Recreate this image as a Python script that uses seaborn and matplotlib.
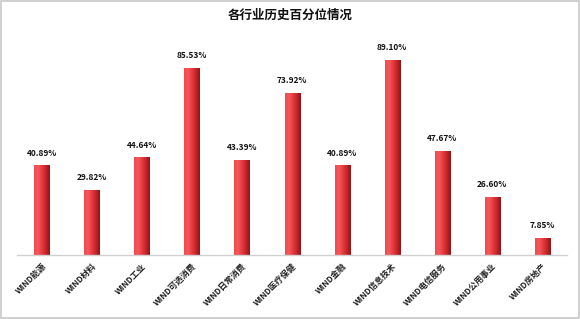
import matplotlib
matplotlib.use("Agg")
import matplotlib.pyplot as plt
import seaborn as sns
import numpy as np
import pandas as pd
from matplotlib.colors import LinearSegmentedColormap
from matplotlib.patches import Rectangle

categories = ["WIND能源", "WIND材料", "WIND工业", "WIND可选消费", "WIND日常消费",
              "WIND医疗保健", "WIND金融", "WIND信息技术", "WIND电信服务",
              "WIND公用事业", "WIND房地产"]
values = [40.89, 29.82, 44.64, 85.53, 43.39, 73.92, 40.89, 89.10, 47.67, 26.60, 7.85]
value_labels = ["40.89%", "29.82%", "44.64%", "85.53%", "43.39%", "73.92%",
                "40.89%", "89.10%", "47.67%", "26.60%", "7.85%"]
title = "各行业历史百分位情况"

sns.set_theme(style="white")
plt.rcParams['font.family'] = ['Noto Sans CJK SC', 'DejaVu Sans']

df = pd.DataFrame({"cat": categories, "val": values})

fig = plt.figure(figsize=(5.8, 3.19), dpi=100)
ax = fig.add_axes([0.029, 0.2006, 0.949, 0.6864])
sns.barplot(data=df, x="cat", y="val", color="#e8383d", width=0.3,
            saturation=1, ax=ax, edgecolor="none")

cmap = LinearSegmentedColormap.from_list(
    "cyl", ["#f04a4f", "#f4585c", "#e63a3f", "#c42429", "#8e1418"])
grad = np.linspace(0, 1, 64).reshape(1, -1)
for i, p in enumerate(ax.patches):
    x0, y0 = p.get_x(), p.get_y()
    w, h = p.get_width(), p.get_height()
    im = ax.imshow(grad, cmap=cmap, extent=[x0, x0 + w, y0, y0 + h],
                   aspect="auto", zorder=p.get_zorder() + 0.1,
                   interpolation="bicubic")
    im.set_clip_path(p)
    ax.text(x0 + w / 2, y0 + h + 3.5, value_labels[i],
            ha="center", va="bottom", fontsize=6, fontweight="bold",
            color="#111111")

ax.set_xlim(-0.5, len(categories) - 0.5)
ax.set_ylim(0, 100)
ax.set_xlabel("")
ax.set_ylabel("")
ax.set_yticks([])
for s in ["top", "right", "left"]:
    ax.spines[s].set_visible(False)
ax.spines["bottom"].set_color("#d0d0d0")
ax.spines["bottom"].set_linewidth(1.0)
ax.tick_params(axis="x", length=0, pad=5)
ax.set_xticks(range(len(categories)))
ax.set_xticklabels(categories, rotation=45, ha="right", rotation_mode="anchor",
                   fontsize=6, fontweight="bold", color="#222222")

fig.text(0.5, 0.952, title, ha="center", va="center", fontsize=9,
         fontweight="bold", color="#111111")
fig.patches.append(Rectangle((0.002, 0.003), 0.996, 0.994, transform=fig.transFigure,
                             fill=False, edgecolor="#c8c8c8", linewidth=1.2))

fig.savefig("out.png", dpi=100)
